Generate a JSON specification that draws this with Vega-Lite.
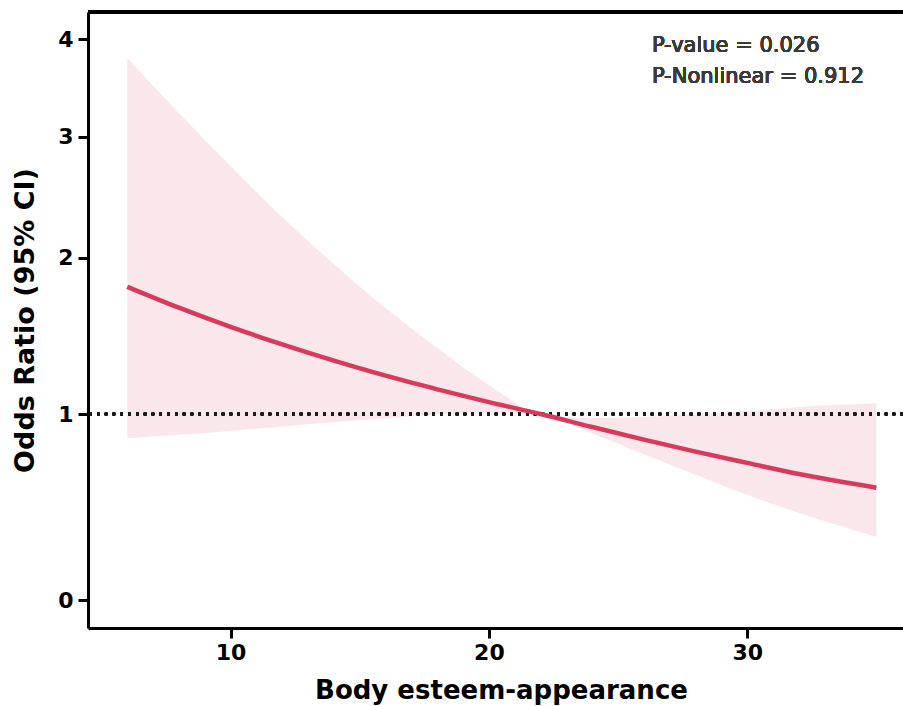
{
  "$schema": "https://vega.github.io/schema/vega-lite/v6.json",
  "width": 815,
  "height": 616,
  "autosize": {"type": "none"},
  "padding": {"left": 88, "top": 12, "right": 0, "bottom": 78},
  "background": "white",
  "config": {
    "view": {"stroke": null},
    "font": "DejaVu Sans",
    "axis": {
      "grid": false,
      "domainColor": "black",
      "domainWidth": 3,
      "tickColor": "black",
      "tickWidth": 3,
      "tickSize": 10,
      "labelFont": "DejaVu Sans",
      "labelFontWeight": "bold",
      "labelFontSize": 22,
      "labelColor": "black",
      "titleFont": "DejaVu Sans",
      "titleFontWeight": "bold",
      "titleColor": "black"
    }
  },
  "data": {
    "values": [
      {"x": 6, "or": 1.814, "lo": 0.869, "hi": 3.806},
      {"x": 8, "or": 1.68, "lo": 0.889, "hi": 3.243},
      {"x": 10, "or": 1.557, "lo": 0.909, "hi": 2.758},
      {"x": 12, "or": 1.445, "lo": 0.933, "hi": 2.336},
      {"x": 14, "or": 1.341, "lo": 0.956, "hi": 1.96},
      {"x": 16, "or": 1.245, "lo": 0.976, "hi": 1.678},
      {"x": 18, "or": 1.158, "lo": 0.998, "hi": 1.422},
      {"x": 20, "or": 1.076, "lo": 1.011, "hi": 1.186},
      {"x": 22, "or": 1.0, "lo": 1.0, "hi": 1.0},
      {"x": 24, "or": 0.93, "lo": 0.895, "hi": 0.978},
      {"x": 26, "or": 0.862, "lo": 0.784, "hi": 0.984},
      {"x": 28, "or": 0.798, "lo": 0.673, "hi": 0.997},
      {"x": 30, "or": 0.737, "lo": 0.565, "hi": 1.019},
      {"x": 32, "or": 0.677, "lo": 0.468, "hi": 1.045},
      {"x": 35, "or": 0.604, "lo": 0.34, "hi": 1.068}
    ]
  },
  "layer": [
    {
      "mark": {"type": "area", "color": "#FAE7EC", "opacity": 1, "interpolate": "monotone"},
      "encoding": {
        "x": {
          "field": "x", "type": "quantitative",
          "scale": {"domain": [4.48, 36.03], "nice": false, "zero": false},
          "axis": {"values": [10, 20, 30], "format": "d", "title": "Body esteem-appearance", "titleFontSize": 26, "labelPadding": 4, "titleX": 413, "titleY": 70, "titleBaseline": "alphabetic", "titleAlign": "center", "titleAnchor": null}
        },
        "y": {
          "field": "lo", "type": "quantitative",
          "scale": {"domain": [-0.15, 0, 1, 2, 3, 4, 4.28], "range": [616, 588, 402, 245.7, 124.7, 27, 0], "nice": false, "zero": false},
          "axis": {"values": [0, 1, 2, 3, 4], "format": "d", "title": "Odds Ratio (95% CI)", "titleFontSize": 27, "labelPadding": 5, "titleX": -55, "titleY": 308, "titleAngle": -90, "titleAlign": "center", "titleBaseline": "alphabetic", "titleAnchor": null}
        },
        "y2": {"field": "hi"}
      }
    },
    {
      "mark": {"type": "rule", "color": "#1a1a1a", "strokeWidth": 2.6, "strokeDash": [2.6, 5.2]},
      "encoding": {"y": {"datum": 1}}
    },
    {
      "mark": {"type": "rule", "color": "black", "strokeWidth": 3},
      "encoding": {"y": {"datum": 4.28}}
    },
    {
      "mark": {"type": "line", "color": "#D73A5D", "strokeWidth": 4.5, "interpolate": "monotone"},
      "encoding": {
        "x": {"field": "x", "type": "quantitative"},
        "y": {"field": "or", "type": "quantitative"}
      }
    },
    {
      "mark": {"type": "text", "text": "P-value = 0.026", "font": "DejaVu Sans", "fontSize": 21, "fontWeight": "normal", "color": "#3a3a3a", "align": "left", "baseline": "alphabetic"},
      "encoding": {"x": {"datum": 26.31}, "y": {"datum": 3.87}}
    },
    {
      "mark": {"type": "text", "text": "P-Nonlinear = 0.912", "font": "DejaVu Sans", "fontSize": 21, "fontWeight": "normal", "color": "#3a3a3a", "align": "left", "baseline": "alphabetic"},
      "encoding": {"x": {"datum": 26.31}, "y": {"datum": 3.547}}
    }
  ]
}
